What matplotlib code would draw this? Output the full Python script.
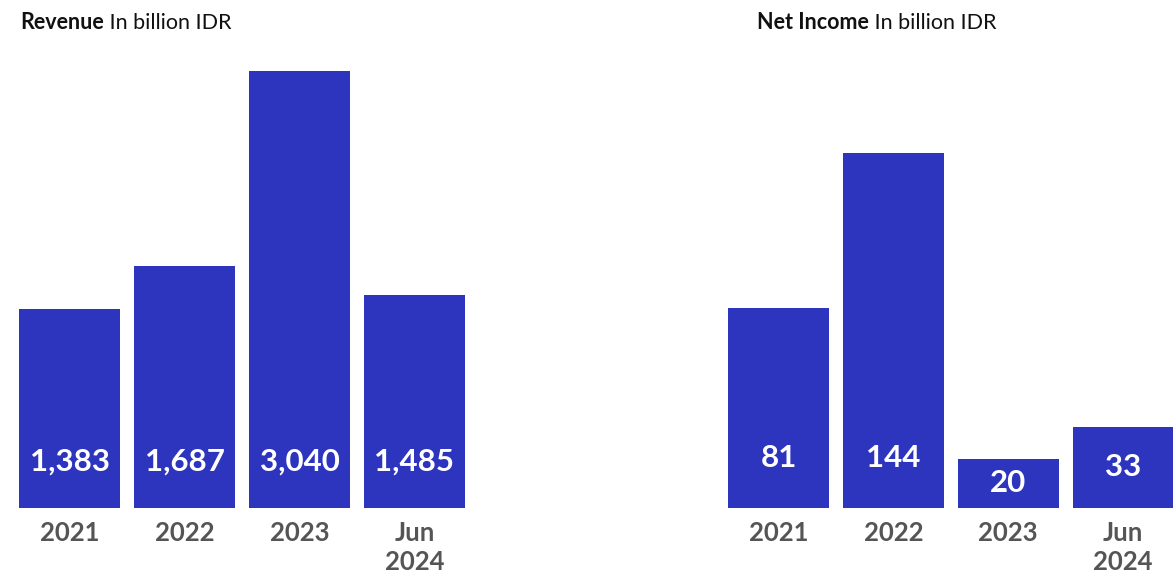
import matplotlib
matplotlib.use("Agg")
import matplotlib.pyplot as plt

plt.rcParams['font.family'] = ['Lato', 'DejaVu Sans']

periods = ['2021', '2022', '2023', 'Jun\n2024']
revenue = [1383, 1687, 3040, 1485]
net_income = [81, 144, 20, 33]

bar_color = '#2D35BE'
tick_color = '#555555'

fig = plt.figure(figsize=(11.73, 5.75), dpi=100)
ax1 = fig.add_axes([0.0165, 0.1165, 0.3799, 0.76])
ax2 = fig.add_axes([0.6206, 0.1165, 0.3799, 0.76])


def draw(ax, values, top, label_off, title_bold, fig_x):
    x = range(len(values))
    ax.bar(x, values, width=0.88, color=bar_color)
    ax.set_xlim(-0.44, len(values) - 0.56)
    ax.set_ylim(0, top)
    for i, v in enumerate(values):
        y = min(label_off, v / 2)
        ax.text(i, y, f'{v:,}', ha='center', va='center', color='white',
                fontsize=22.5, fontweight='bold')
    ax.set_xticks(list(x))
    ax.set_xticklabels(periods, fontsize=18.5, fontweight='bold', color=tick_color,
                       linespacing=1.25, va='top')
    ax.tick_params(axis='x', length=0, pad=9)
    ax.set_yticks([])
    for s in ax.spines.values():
        s.set_visible(False)
    t = fig.text(fig_x, 1 - 29 / 575, title_bold, fontsize=15.5, fontweight='bold',
                 color='#111111', va='baseline', ha='left')
    ax.annotate(' In billion IDR', xy=(1, 0), xycoords=t, va='bottom', ha='left',
                fontsize=15.5, color='#111111', annotation_clip=False)


draw(ax1, revenue, 3040, 3040 * 46 / 437, 'Revenue', 20 / 1173)
draw(ax2, net_income, 144 * 437 / 355, 144 * 50 / 355, 'Net Income', 757 / 1173)

fig.savefig('out.png', dpi=100)
